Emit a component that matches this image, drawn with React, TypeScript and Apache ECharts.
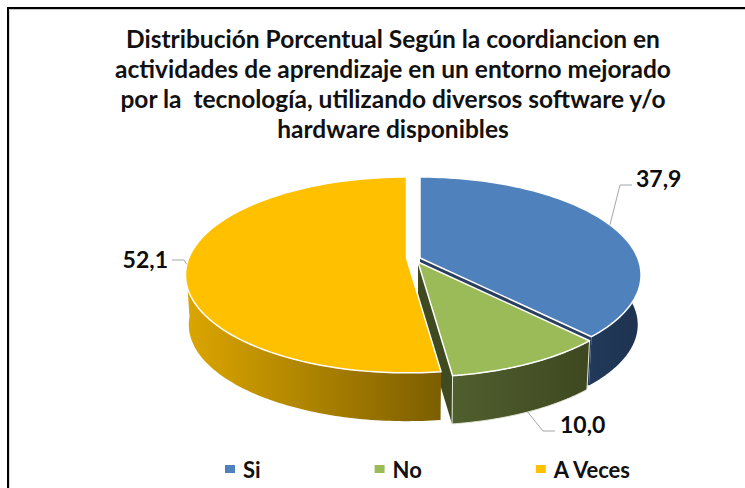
import React, { useEffect, useRef } from "react";
import * as echarts from "echarts";

const categories = ["Si", "No", "A Veces"];
const values = [37.9, 10.0, 52.1];
const titleText = [
  "Distribución Porcentual Según la coordiancion en",
  "actividades de aprendizaje en un entorno mejorado",
  "por la  tecnología, utilizando diversos software y/o",
  "hardware disponibles",
];

const topColors = ["#4F81BD", "#9BBB59", "#FFC000"];
const wallGradients = [
  ["#22395A", "#1D3350"],
  ["#505F2E", "#3E4820"],
  ["#DCA600", "#7C5E00"],
];
const endWallColors = ["#2A3F5E", "#3F4A20", "#7C5E00"];
// exploded apex of each slice
const apexes = [
  [420, 258],
  [418, 262],
  [406.5, 258],
];
// perspective of the pie plane
const A = 217.7;
const B = 95;
const K = 0.173;
const DEPTH = 50;
const SHRINK = 0.985;
// label elbow and label anchor per slice
const elbows = [
  [[620, 185], [632, 185]],
  [[543, 431], [555, 431]],
  [[184, 260], [172, 260]],
];
const labelPos = [
  [636, 178, "left"],
  [560, 424, "left"],
  [168, 259, "right"],
];

const total = values.reduce((a, b) => a + b, 0);
const starts: number[] = [];
values.reduce((acc, v, i) => {
  starts[i] = acc;
  return acc + v;
}, 0);
const angleOf = (v: number) => (v / total) * Math.PI * 2;

function project(i: number, th: number, bottom: boolean): number[] {
  const u = Math.sin(th);
  const v = -Math.cos(th);
  const w = 1 - K * v;
  const s = bottom ? SHRINK : 1;
  const d = bottom ? DEPTH : 0;
  return [apexes[i][0] + (s * A * u) / w, apexes[i][1] + d + (s * B * v) / w];
}

function arc(i: number, a0: number, a1: number, bottom: boolean): number[][] {
  const n = 90;
  const pts: number[][] = [];
  for (let k = 0; k <= n; k++) pts.push(project(i, a0 + ((a1 - a0) * k) / n, bottom));
  return pts;
}

function renderSlice(i: number) {
  return () => {
    const a0 = angleOf(starts[i]);
    const a1 = a0 + angleOf(values[i]);
    const mid = (a0 + a1) / 2;
    const apex = apexes[i];
    const apexB = [apex[0], apex[1] + DEPTH];
    const topArc = arc(i, a0, a1, false);
    const botArc = arc(i, a0, a1, true);
    const children: any[] = [];
    // radial walls
    children.push({
      type: "polygon",
      shape: { points: [apex, topArc[topArc.length - 1], botArc[botArc.length - 1], apexB] },
      style: { fill: endWallColors[i] },
    });
    if (i === 1) {
      children.push({
        type: "polygon",
        shape: { points: [apex, topArc[0], botArc[0], apexB] },
        style: { fill: endWallColors[i] },
      });
    }
    // outer wall, only the part facing the viewer
    const from = i === 0 ? Math.PI * 0.42 : a0;
    const to = i === 2 ? Math.PI * 1.47 : a1;
    const wallTop = arc(i, from, to, false);
    const wallBot = arc(i, from, to, true).reverse();
    children.push({
      type: "polygon",
      shape: { points: wallTop.concat(wallBot) },
      style: {
        fill: new echarts.graphic.LinearGradient(0, 0, 1, 0, [
          { offset: 0, color: wallGradients[i][0] },
          { offset: 1, color: wallGradients[i][1] },
        ]),
        stroke: i === 1 ? "#E6E9DC" : "none",
        lineWidth: i === 1 ? 1 : 0,
      },
    });
    // top face
    children.push({
      type: "polygon",
      shape: { points: [apex].concat(topArc) },
      style: { fill: topColors[i], stroke: "#FFFFFF", lineWidth: 1.5, lineJoin: "round" },
    });
    // leader
    const anchor = project(i, mid, i === 1);
    children.push({
      type: "polyline",
      shape: { points: [anchor, elbows[i][0], elbows[i][1]] },
      style: { stroke: "#A6A6A6", lineWidth: 1, fill: "none" },
    });
    // label
    children.push({
      type: "text",
      style: {
        text: values[i].toFixed(1).replace(".", ","),
        x: labelPos[i][0],
        y: labelPos[i][1],
        align: labelPos[i][2],
        verticalAlign: "middle",
        fill: "#0D0D0D",
        font: 'bold 23px Lato, "Noto Sans", sans-serif',
      },
    });
    return { type: "group", children };
  };
}

export default function App() {
  const ref = useRef<HTMLDivElement>(null);
  useEffect(() => {
    document.body.style.margin = "0";
    const chart = echarts.init(ref.current!, undefined, { renderer: "svg" });
    chart.setOption({
      animation: false,
      backgroundColor: "#FFFFFF",
      title: {
        text: titleText.join("\n"),
        left: 388,
        top: 18,
        textAlign: "center",
        textStyle: {
          fontFamily: 'Lato, "Noto Sans", sans-serif',
          fontWeight: "bold",
          fontSize: 24.5,
          lineHeight: 30,
          color: "#111111",
        },
      },
      legend: {
        data: categories,
        left: 220,
        top: 453,
        icon: "rect",
        itemWidth: 10,
        itemHeight: 8,
        itemGap: 114,
        textStyle: {
          fontFamily: 'Lato, "Noto Sans", sans-serif',
          fontWeight: "bold",
          fontSize: 22,
          color: "#111111",
          padding: [0, 0, 0, 3],
        },
      },
      graphic: [
        { type: "line", shape: { x1: 9, y1: 9.5, x2: 745, y2: 9.5 }, style: { stroke: "#C8C8C8", lineWidth: 1 } },
        { type: "line", shape: { x1: 9.5, y1: 9, x2: 9.5, y2: 488 }, style: { stroke: "#DADADA", lineWidth: 1 } },
        { type: "line", shape: { x1: 7, y1: 8, x2: 745, y2: 8 }, style: { stroke: "#000000", lineWidth: 2 } },
        { type: "line", shape: { x1: 8, y1: 7, x2: 8, y2: 488 }, style: { stroke: "#000000", lineWidth: 2 } },
      ],
      series: categories.map((name, i) => ({
        type: "custom",
        name,
        coordinateSystem: "none",
        silent: true,
        itemStyle: { color: topColors[i] },
        data: [values[i]],
        renderItem: renderSlice(i),
      })),
    });
    return () => chart.dispose();
  }, []);
  return <div ref={ref} style={{ width: 745, height: 488 }} />;
}
